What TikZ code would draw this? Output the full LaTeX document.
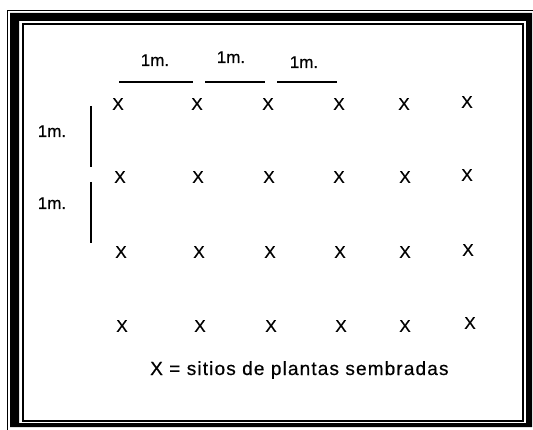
\documentclass[tikz,border=0pt]{standalone}
\usepackage{fontspec}
\setmainfont{Liberation Sans}[FakeBold=0.5]
\newfontfamily\capfont{Liberation Sans}[LetterSpace=6,FakeBold=0.5]
\begin{document}
\begin{tikzpicture}[x=1pt,y=-1pt,
  plantx/.style={inner sep=0pt, font=\fontsize{17}{20}\selectfont},
  dimlabel/.style={inner sep=0pt, anchor=base, font=\fontsize{17}{20}\selectfont},
  dimline/.style={line width=1.4pt},
  caption/.style={inner sep=0pt, anchor=base west, font=\capfont\fontsize{19}{22}\selectfont}]
\useasboundingbox (0,0) rectangle (533,430);
% frame
\fill[black, even odd rule] (10,13) rectangle (532,427) (19,21) rectangle (526,423);
\draw[line width=1.2pt] (7.5,430) -- (7.5,10.5) -- (533,10.5);
\draw[line width=1.3pt] (23,24) rectangle (523,421);
% top dimension labels and lines
\node[dimlabel] (t1) at (155,66) {1m.};
\node[dimlabel] (t2) at (231,63) {1m.};
\node[dimlabel] (t3) at (304,68) {1m.};
\coordinate (h1a) at (119,82); \coordinate (h1b) at (193,82);
\coordinate (h2a) at (205,82); \coordinate (h2b) at (265,82);
\coordinate (h3a) at (277,82); \coordinate (h3b) at (337,82);
\draw[dimline] (h1a) -- (h1b);
\draw[dimline] (h2a) -- (h2b);
\draw[dimline] (h3a) -- (h3b);
% left dimension labels and bars
\node[dimlabel] (l1) at (52,137) {1m.};
\node[dimlabel] (l2) at (52,209) {1m.};
\coordinate (v1a) at (91,106); \coordinate (v1b) at (91,167);
\coordinate (v2a) at (91,182); \coordinate (v2b) at (91,243);
\draw[line width=1.8pt] (v1a) -- (v1b);
\draw[line width=1.8pt] (v2a) -- (v2b);
% planting sites
\node[plantx] (x11) at (118,104) {X};
\node[plantx] (x12) at (197,104) {X};
\node[plantx] (x13) at (268,104) {X};
\node[plantx] (x14) at (339,104) {X};
\node[plantx] (x15) at (404,104) {X};
\node[plantx] (x16) at (467,102) {X};
\node[plantx] (x21) at (120,177) {X};
\node[plantx] (x22) at (198,177) {X};
\node[plantx] (x23) at (269,177) {X};
\node[plantx] (x24) at (339,177) {X};
\node[plantx] (x25) at (405,177) {X};
\node[plantx] (x26) at (467,175) {X};
\node[plantx] (x31) at (121,252) {X};
\node[plantx] (x32) at (199,252) {X};
\node[plantx] (x33) at (270,252) {X};
\node[plantx] (x34) at (340,252) {X};
\node[plantx] (x35) at (405,252) {X};
\node[plantx] (x36) at (468,250) {X};
\node[plantx] (x41) at (122,326) {X};
\node[plantx] (x42) at (200,326) {X};
\node[plantx] (x43) at (271,326) {X};
\node[plantx] (x44) at (341,326) {X};
\node[plantx] (x45) at (405,326) {X};
\node[plantx] (x46) at (470,323) {X};
% caption
\node[caption] (cap) at (150,375) {X = sitios de plantas sembradas};
\end{tikzpicture}
\end{document}
